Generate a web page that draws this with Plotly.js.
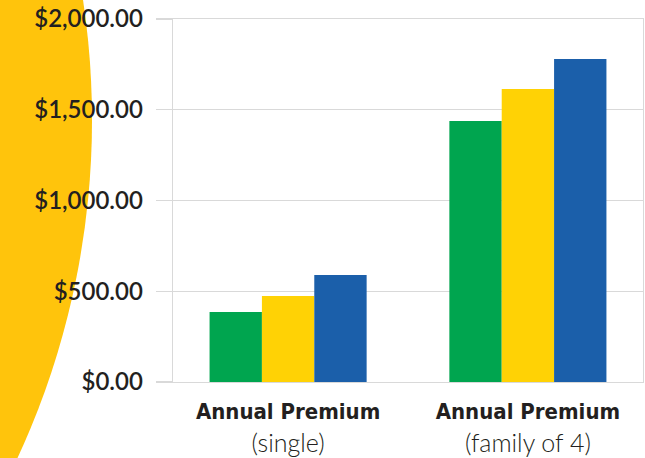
<!DOCTYPE html>
<html>
<head>
<meta charset="utf-8">
<script src="https://cdn.plot.ly/plotly-3.0.1.min.js"></script>
<style>html,body{margin:0;padding:0;background:#fff;}#chart{width:645px;height:458px;}</style>
</head>
<body>
<div id="chart"></div>
<script>
var categories = ["Annual Premium|(single)", "Annual Premium|(family of 4)"];
var seriesNames = ["Series 1", "Series 2", "Series 3"];
var series1 = [386, 1438];
var series2 = [474, 1614];
var series3 = [590, 1780];
var seriesColors = ["#00A54F", "#FFD205", "#1B5FAA"];
var yTicks = [0, 500, 1000, 1500, 2000];
var yTickLabels = ["$0.00", "$500.00", "$1,000.00", "$1,500.00", "$2,000.00"];

var tickText = categories.map(function (c) {
  var p = c.split("|");
  return '<span style="font-family:\'Liberation Sans Narrow\', \'DejaVu Sans Condensed\', sans-serif;font-weight:bold;font-size:22px">' + p[0] + '</span><br>' + p[1];
});

var values = [series1, series2, series3];
var traces = values.map(function (v, i) {
  return {
    type: "bar",
    name: seriesNames[i],
    x: categories,
    y: v,
    marker: { color: seriesColors[i], line: { width: 0 } },
    hoverinfo: "y"
  };
});

var layout = {
  width: 645,
  height: 458,
  margin: { l: 173, r: 2, t: 19, b: 76, pad: 0 },
  paper_bgcolor: "#ffffff",
  plot_bgcolor: "rgba(0,0,0,0)",
  showlegend: false,
  barmode: "group",
  bargap: 0.345,
  bargroupgap: 0,
  font: { family: "Lato, 'Open Sans', sans-serif", color: "#231f20" },
  xaxis: {
    type: "category",
    range: [-0.48, 1.48],
    tickvals: categories,
    ticktext: tickText,
    tickfont: { size: 25, color: "#231f20", family: "Lato, sans-serif", weight: 300 },
    showgrid: false,
    showline: true,
    mirror: true,
    linecolor: "#d9d9d9",
    linewidth: 1.3,
    ticks: "",
    zeroline: false,
    ticklabelstandoff: 6,
    fixedrange: true
  },
  yaxis: {
    range: [0, 2000],
    tickvals: yTicks,
    ticktext: yTickLabels,
    tickfont: { size: 24, color: "#231f20", family: "Lato, sans-serif", weight: 600 },
    showgrid: true,
    gridcolor: "#d9d9d9",
    gridwidth: 1.3,
    ticks: "outside",
    ticklen: 16,
    tickcolor: "#d9d9d9",
    tickwidth: 1.3,
    showline: true,
    linecolor: "#d9d9d9",
    linewidth: 1.3,
    mirror: true,
    zeroline: false,
    ticklabelstandoff: 8,
    fixedrange: true
  },
  shapes: [
    {
      type: "circle",
      xref: "paper", yref: "paper",
      x0: -3.596, x1: -0.1723,
      y0: -1.494, y1: 2.938,
      fillcolor: "#FFC40C",
      line: { width: 0 },
      layer: "below"
    }
  ]
};

Plotly.newPlot("chart", traces, layout, { displayModeBar: false, staticPlot: true });
</script>
</body>
</html>
